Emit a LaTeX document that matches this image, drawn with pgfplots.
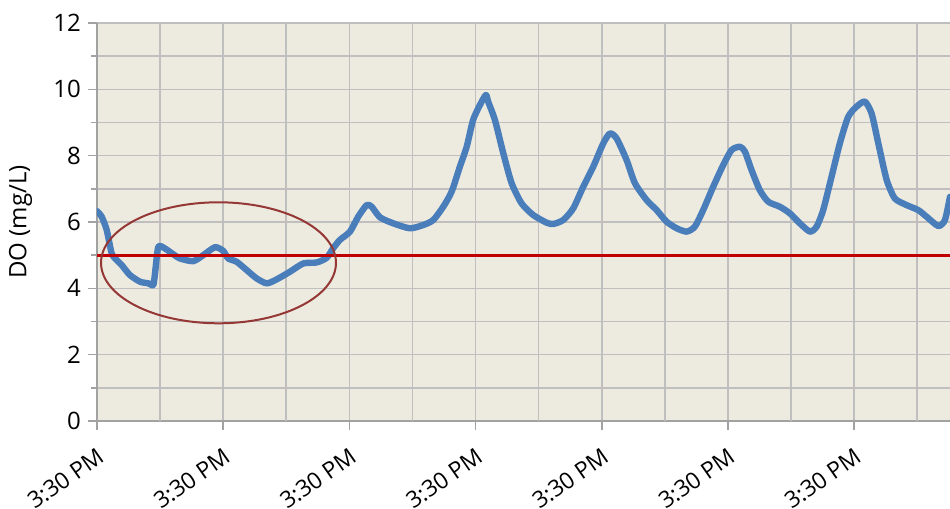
\documentclass[border=0pt]{standalone}
\usepackage{pgfplots}
\pgfplotsset{compat=1.18}
\usepackage{fontspec}
\setmainfont{Open Sans}
\definecolor{bgc}{RGB}{237,234,224}
\definecolor{gridc}{RGB}{191,191,191}
\definecolor{blu}{RGB}{74,126,187}
\definecolor{redl}{RGB}{192,0,0}
\definecolor{ell}{RGB}{149,55,53}
\pgfplotstableread{
x y
0.000 6.33
0.037 6.16
0.077 5.76
0.116 5.06
0.156 4.85
0.196 4.70
0.261 4.40
0.341 4.20
0.407 4.15
0.446 4.10
0.460 4.46
0.486 5.25
0.539 5.20
0.592 5.06
0.658 4.90
0.763 4.82
0.842 5.00
0.935 5.24
1.000 5.13
1.040 4.90
1.107 4.80
1.186 4.55
1.265 4.30
1.345 4.15
1.424 4.27
1.529 4.50
1.635 4.75
1.741 4.78
1.820 4.92
1.870 5.20
1.925 5.46
2.005 5.71
2.070 6.16
2.137 6.51
2.177 6.46
2.243 6.14
2.348 5.96
2.480 5.81
2.586 5.91
2.665 6.06
2.744 6.46
2.810 6.91
2.876 7.67
2.930 8.27
2.980 9.07
3.035 9.53
3.082 9.83
3.100 9.63
3.154 9.07
3.220 8.07
3.286 7.17
3.365 6.56
3.457 6.21
3.563 5.98
3.616 5.94
3.695 6.06
3.774 6.41
3.853 7.06
3.933 7.67
4.012 8.37
4.065 8.67
4.118 8.52
4.197 7.87
4.263 7.17
4.356 6.66
4.435 6.36
4.514 6.01
4.594 5.81
4.673 5.71
4.738 5.86
4.804 6.36
4.883 7.06
4.963 7.72
5.029 8.17
5.095 8.27
5.135 8.12
5.187 7.57
5.253 6.96
5.320 6.61
5.412 6.46
5.491 6.26
5.570 5.96
5.650 5.71
5.703 5.86
5.755 6.36
5.821 7.36
5.887 8.37
5.953 9.17
6.020 9.48
6.085 9.63
6.139 9.27
6.192 8.37
6.258 7.27
6.323 6.71
6.416 6.51
6.508 6.36
6.574 6.16
6.667 5.88
6.720 6.06
6.760 6.76
}\dodata
\begin{document}
\begin{tikzpicture}
\useasboundingbox (-48.5pt,-44pt) rectangle (426.5pt,210.5pt);
\begin{axis}[
  at={(0,0)}, anchor=south west,
  scale only axis, width=426.5pt, height=199pt,
  xmin=0, xmax=6.76, ymin=0, ymax=12,
  axis lines=left, axis line style={-, draw=gridc!85!black, line width=0.9pt},
  axis background/.style={fill=bgc},
  xtick={0,1,2,3,4,5,6},
  xticklabels={3:30 PM,3:30 PM,3:30 PM,3:30 PM,3:30 PM,3:30 PM,3:30 PM},
  extra x ticks={0.5,1.5,2.5,3.5,4.5,5.5,6.5},
  extra x tick labels={},
  extra x tick style={grid=major, major tick length=0pt},
  ytick={0,2,...,12},
  minor ytick={1,3,...,11},
  grid=both,
  major grid style={draw=gridc, line width=0.8pt},
  minor grid style={draw=gridc, line width=0.8pt},
  tick align=outside,
  major tick length=4.5pt, minor tick length=3pt,
  tick style={draw=gridc!85!black, line width=0.8pt},
  x tick label style={xshift=-0.5pt, yshift=-8pt, rotate=35, anchor=north east, inner sep=0pt, font=\fontsize{11.5}{13}\selectfont},
  y tick label style={font=\fontsize{12}{14}\selectfont},
  /pgf/number format/assume math mode=true,
  ylabel={DO (mg/L)},
  ylabel style={at={(axis description cs:-0.0897,0.5)}, anchor=center, rotate=0, font=\fontsize{12}{14}\selectfont},
  clip=true,
]
\addplot[blu, line width=3.2pt, line join=round, line cap=round, smooth, tension=0.4] table[x=x,y=y]{\dodata};
\addplot[redl, line width=1.6pt] coordinates {(0,5) (6.76,5)};
\draw[ell, line width=1pt] (axis cs:0.963,4.77) ellipse [x radius=0.931, y radius=1.824];
\end{axis}
\end{tikzpicture}
\end{document}
